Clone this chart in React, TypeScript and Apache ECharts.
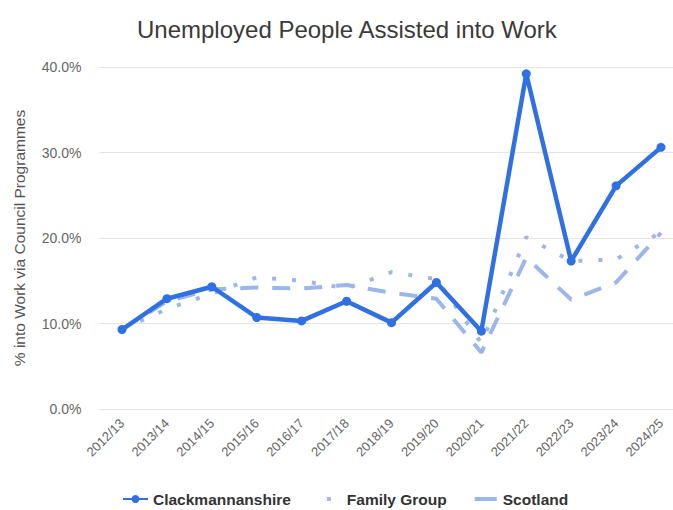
import React, { useEffect, useRef } from "react";
import * as echarts from "echarts";

const categories = ["2012/13","2013/14","2014/15","2015/16","2016/17","2017/18","2018/19","2019/20","2020/21","2021/22","2022/23","2023/24","2024/25"];
const clackmannanshire = [9.3,12.9,14.3,10.7,10.3,12.6,10.1,14.8,9.1,39.2,17.3,26.1,30.6];
const familyGroup = [9.3,11.7,13.5,15.4,15.0,14.1,16.0,15.2,7.7,20.1,17.3,17.5,20.7];
const scotland = [9.3,12.6,14.0,14.2,14.1,14.5,13.6,12.9,6.6,17.7,12.8,14.8,20.6];
const yTicks = [0, 10, 20, 30, 40];

const FONT = "'Liberation Sans', Arial, sans-serif";
const DARK = "#2f70e3";
const LIGHT = "#9ab6ea";

export default function App() {
  const ref = useRef<HTMLDivElement>(null);
  useEffect(() => {
    const chart = echarts.init(ref.current!, null, { renderer: "svg" });
    const yMin = yTicks[0];
    const yMax = yTicks[yTicks.length - 1];
    chart.setOption({
      animation: false,
      textStyle: { fontFamily: FONT },
      title: {
        text: "Unemployed People Assisted into Work",
        left: 132,
        top: 12,
        textStyle: { fontFamily: FONT, fontSize: 24, fontWeight: "normal", color: "#3a3a3a" },
      },
      grid: [
        { left: 99.5, right: 0, top: 67, bottom: 101 },
        { left: 122, right: 12, top: 67, bottom: 101 },
      ],
      legend: {
        top: 486,
        left: 117,
        itemWidth: 25,
        itemHeight: 10,
        itemGap: 26,
        textStyle: { fontFamily: FONT, fontSize: 15.5, fontWeight: "bold", color: "#333" },
        data: [
          { name: "Clackmannanshire" },
          { name: "Family Group", icon: "path://M0,0M25,10M10,3h4v4h-4z" },
          { name: "Scotland", icon: "path://M0,0M25,10M2,3h22v4h-22z" },
        ],
      },
      xAxis: [
        {
          gridIndex: 0,
          type: "value",
          min: 0,
          max: 1,
          show: false,
        },
        {
          gridIndex: 1,
          type: "category",
          data: categories,
          boundaryGap: false,
          axisLine: { show: false },
          axisTick: { show: false },
          splitLine: { show: false },
          axisLabel: {
            rotate: 45,
            color: "#666",
            fontSize: 13,
            margin: 12,
            interval: 0,
            fontFamily: FONT,
          },
        },
      ],
      yAxis: [
        {
          gridIndex: 0,
          type: "value",
          min: yMin,
          max: yMax,
          interval: 10,
          name: "% into Work via Council Programmes",
          nameLocation: "middle",
          nameGap: 72,
          nameTextStyle: { color: "#555", fontSize: 15.5, fontFamily: FONT },
          axisLine: { show: false },
          axisTick: { show: false },
          axisLabel: {
            formatter: (v: number) => v.toFixed(1) + "%",
            color: "#666",
            fontSize: 14,
            margin: 18,
            fontFamily: FONT,
          },
          splitLine: { lineStyle: { color: "#e4e4e4", width: 1 } },
        },
        {
          gridIndex: 1,
          type: "value",
          min: yMin,
          max: yMax,
          interval: 10,
          show: false,
          splitLine: { show: false },
        },
      ],
      series: [
        {
          name: "Scotland",
          type: "line",
          xAxisIndex: 1,
          yAxisIndex: 1,
          data: scotland,
          symbol: "none",
          z: 1,
          lineStyle: { color: LIGHT, width: 4, type: [18, 14] },
          itemStyle: { color: LIGHT },
        },
        {
          name: "Family Group",
          type: "line",
          xAxisIndex: 1,
          yAxisIndex: 1,
          data: familyGroup,
          symbol: "none",
          z: 2,
          lineStyle: { color: LIGHT, width: 4, type: [4, 16] },
          itemStyle: { color: LIGHT },
        },
        {
          name: "Clackmannanshire",
          type: "line",
          xAxisIndex: 1,
          yAxisIndex: 1,
          data: clackmannanshire,
          symbol: "circle",
          symbolSize: 9,
          z: 3,
          lineStyle: { color: DARK, width: 4.5 },
          itemStyle: { color: DARK },
        },
      ],
    });
    return () => chart.dispose();
  }, []);
  return <div ref={ref} style={{ width: 673, height: 510, position: "absolute", left: 0, top: 0 }} />;
}
